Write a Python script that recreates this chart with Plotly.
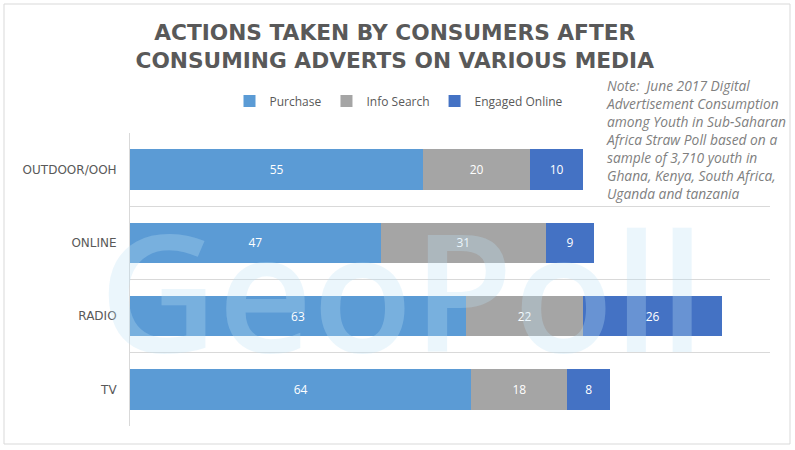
import plotly.graph_objects as go

categories = ["OUTDOOR/OOH", "ONLINE", "RADIO", "TV"]
purchase = [55, 47, 63, 64]
info_search = [20, 31, 22, 18]
engaged_online = [10, 9, 26, 8]

series = [
    ("Purchase", purchase, "#5B9BD5"),
    ("Info Search", info_search, "#A5A5A5"),
    ("Engaged Online", engaged_online, "#4472C4"),
]

note = ("Note:  June 2017 Digital<br>Advertisement Consumption<br>among Youth in Sub-Saharan<br>"
        "Africa Straw Poll based on a<br>sample of 3,710 youth in<br>Ghana, Kenya, South Africa,<br>"
        "Uganda and tanzania")

W, H = 795, 450
L, R, T, B = 130, 25, 133, 24
PW, PH = W - L - R, H - T - B

fig = go.Figure()
for name, vals, color in series:
    fig.add_trace(go.Bar(
        y=categories, x=vals, name=name, orientation="h",
        marker=dict(color=color, line=dict(width=0)),
        text=vals, textposition="inside", insidetextanchor="middle",
        textfont=dict(color="white", size=12, family="Open Sans"),
        width=0.55,
    ))

fig.update_layout(
    barmode="stack",
    width=W, height=H,
    margin=dict(l=L, r=R, t=T, b=B, autoexpand=False),
    paper_bgcolor="white", plot_bgcolor="white",
    title=dict(
        text="<b>ACTIONS TAKEN BY CONSUMERS AFTER<br>CONSUMING ADVERTS ON VARIOUS MEDIA</b>",
        x=0.4965, xanchor="center", y=1 - 40 / H, yanchor="middle",
        font=dict(family="DejaVu Sans", size=21.7, color="#595959"),
    ),
    legend=dict(
        orientation="h", x=399 / W, xanchor="center", xref="container",
        y=1 - 101 / H, yref="container", yanchor="middle",
        font=dict(family="Open Sans", size=12, color="#595959"),
        itemwidth=30, traceorder="normal", bgcolor="rgba(0,0,0,0)",
    ),
    showlegend=True,
    xaxis=dict(range=[0, 120], showgrid=False, showticklabels=False, zeroline=False,
               showline=False, fixedrange=True),
    yaxis=dict(autorange="reversed", tickson="boundaries", showgrid=True,
               gridcolor="#D9D9D9", gridwidth=1, ticks="", showline=True,
               linecolor="#D9D9D9", linewidth=1, automargin=False,
               tickfont=dict(family="DejaVu Sans", size=12, color="#595959"),
               ticklabelstandoff=10),
    bargap=0.45,
)

fig.add_annotation(
    text="GeoPoll", x=(402 - L) / PW, y=(T + PH - 288) / PH, xref="paper", yref="paper",
    xanchor="center", yanchor="middle", showarrow=False,
    font=dict(family="Open Sans", size=164, weight=600, color="rgba(190,225,245,0.3)"),
)
fig.add_annotation(
    text="<i>" + note + "</i>", x=(604 - L) / PW, y=(T + PH - 74) / PH,
    xref="paper", yref="paper", xanchor="left", yanchor="top",
    align="left", showarrow=False,
    font=dict(family="Open Sans", size=13.8, color="#7F7F7F"),
)
fig.add_shape(type="rect", xref="paper", yref="paper",
              x0=(4 - L) / PW, x1=(790 - L) / PW,
              y0=(T + PH - 444) / PH, y1=(T + PH - 4) / PH,
              line=dict(color="#D9D9D9", width=1))

fig.write_html("out.html", config={"displayModeBar": False},
               post_script="document.body.style.margin='0';")
